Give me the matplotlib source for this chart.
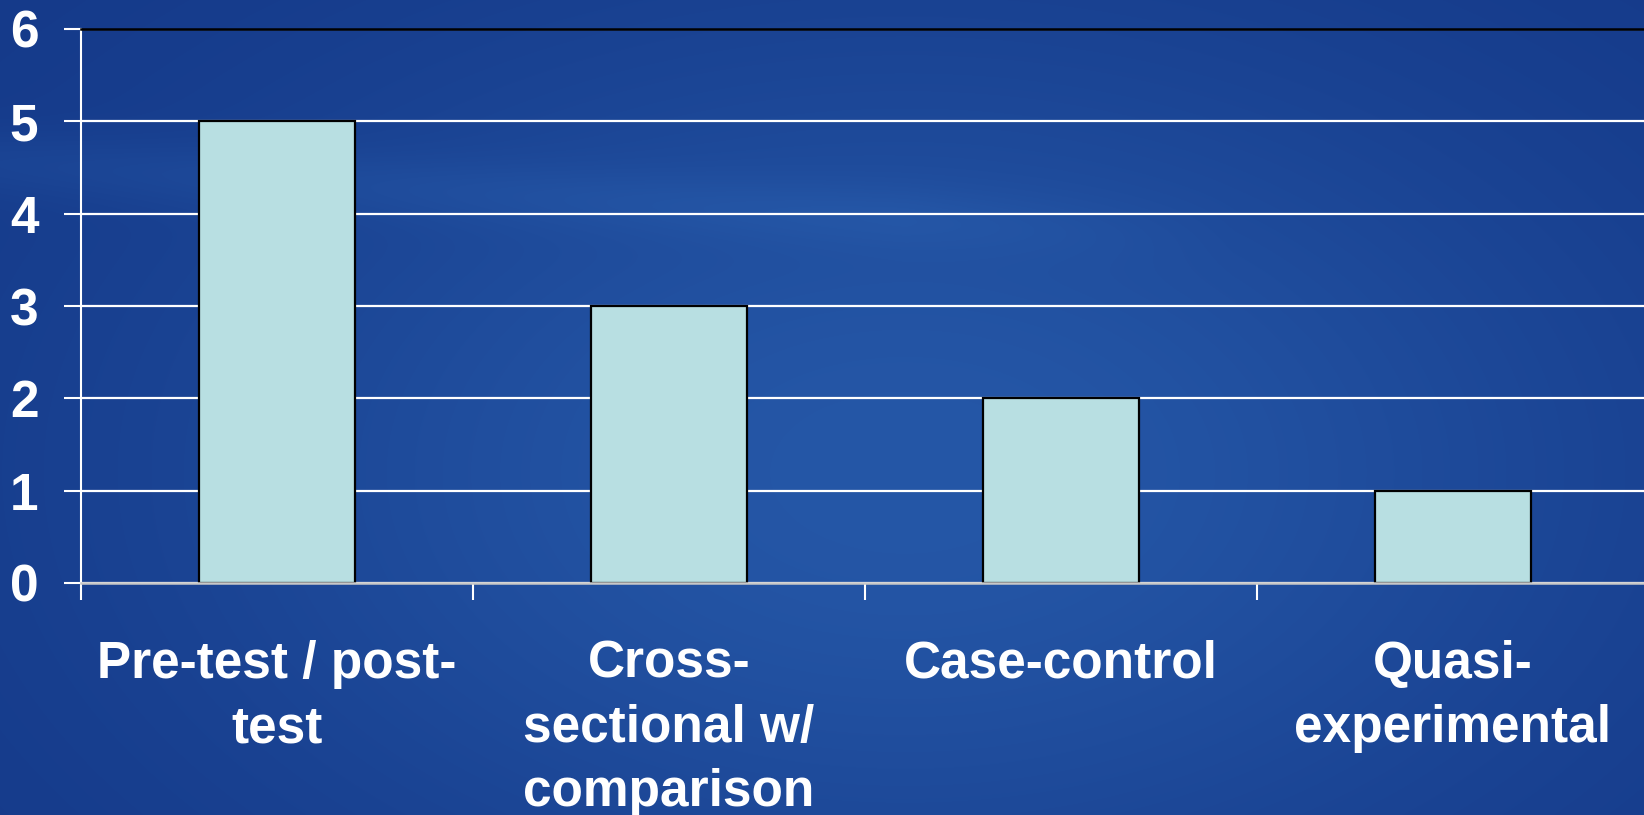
import numpy as np
import matplotlib
matplotlib.use("Agg")
import matplotlib.pyplot as plt

categories = ["Pre-test / post-\ntest", "Cross-\nsectional w/\ncomparison",
              "Case-control", "Quasi-\nexperimental"]
values = [5, 3, 2, 1]
yticks = [0, 1, 2, 3, 4, 5, 6]

plt.rcParams['font.family'] = ['Liberation Sans', 'DejaVu Sans']
plt.rcParams['font.weight'] = 'bold'

W, H = 1644, 815
fig = plt.figure(figsize=(W / 100, H / 100), dpi=100)

# background gradient
bg = fig.add_axes([0, 0, 1, 1], zorder=0)
bg.set_axis_off()
yy, xx = np.mgrid[0:1:815j, 0:1:1644j]
dark = np.array([20, 56, 136]) / 255.0
light = np.array([37, 87, 167]) / 255.0
w = np.exp(-(((xx - 0.55) / 0.45) ** 2 + ((yy - 0.42) / 0.55) ** 2))
sw = 0.25 * np.exp(-((yy - (0.80 - 0.12 * xx)) / 0.04) ** 2) * np.clip((0.75 - xx) / 0.2, 0, 1)
w = np.clip(w + sw, 0, 1)
img = dark[None, None, :] * (1 - w[..., None]) + light[None, None, :] * w[..., None]
bg.imshow(img, aspect='auto', extent=[0, 1, 0, 1], interpolation='none')
bg.set_xlim(0, 1)
bg.set_ylim(1, 0)

left = 81 / W
right = 1649 / W
bottom = 1 - 583 / H
top = 1 - 29 / H
ax = fig.add_axes([left, bottom, right - left, top - bottom], zorder=1)
ax.set_facecolor('none')

x = np.arange(len(categories))
ax.bar(x, values, width=0.40, color='#B8DFE2', edgecolor='black', linewidth=1.6, zorder=3)

ax.set_xlim(-0.5, len(categories) - 0.5)
ax.set_ylim(0, 6)
ax.set_yticks(yticks)
ax.set_yticklabels([str(t) for t in yticks])
ax.yaxis.grid(True, color='white', linewidth=1.6, zorder=1)
ax.set_axisbelow(True)

ax.set_xticks(x)
ax.set_xticklabels(categories, linespacing=1.40)
ax.set_xticks(np.arange(-0.5, len(categories) - 0.5, 1.0), minor=True)
ax.tick_params(axis='x', which='major', length=0, pad=41, colors='white', labelsize=37)
ax.tick_params(axis='x', which='minor', length=12.2, width=1.5, color='white', direction='out')
ax.tick_params(axis='y', length=12.2, width=1.5, color='white', pad=18.5, labelsize=37, labelcolor='white')

for lab in ax.get_xticklabels() + ax.get_yticklabels():
    lab.set_fontweight('bold')
    lab.set_color('white')

ax.spines['left'].set_color('white')
ax.spines['left'].set_linewidth(1.5)
ax.spines['bottom'].set_color('#c8c8c8')
ax.spines['bottom'].set_linewidth(1.8)
ax.spines['bottom'].set_zorder(4)
ax.spines['top'].set_color('black')
ax.spines['top'].set_linewidth(1.8)
ax.spines['right'].set_visible(False)

fig.savefig('out.png', dpi=100)
